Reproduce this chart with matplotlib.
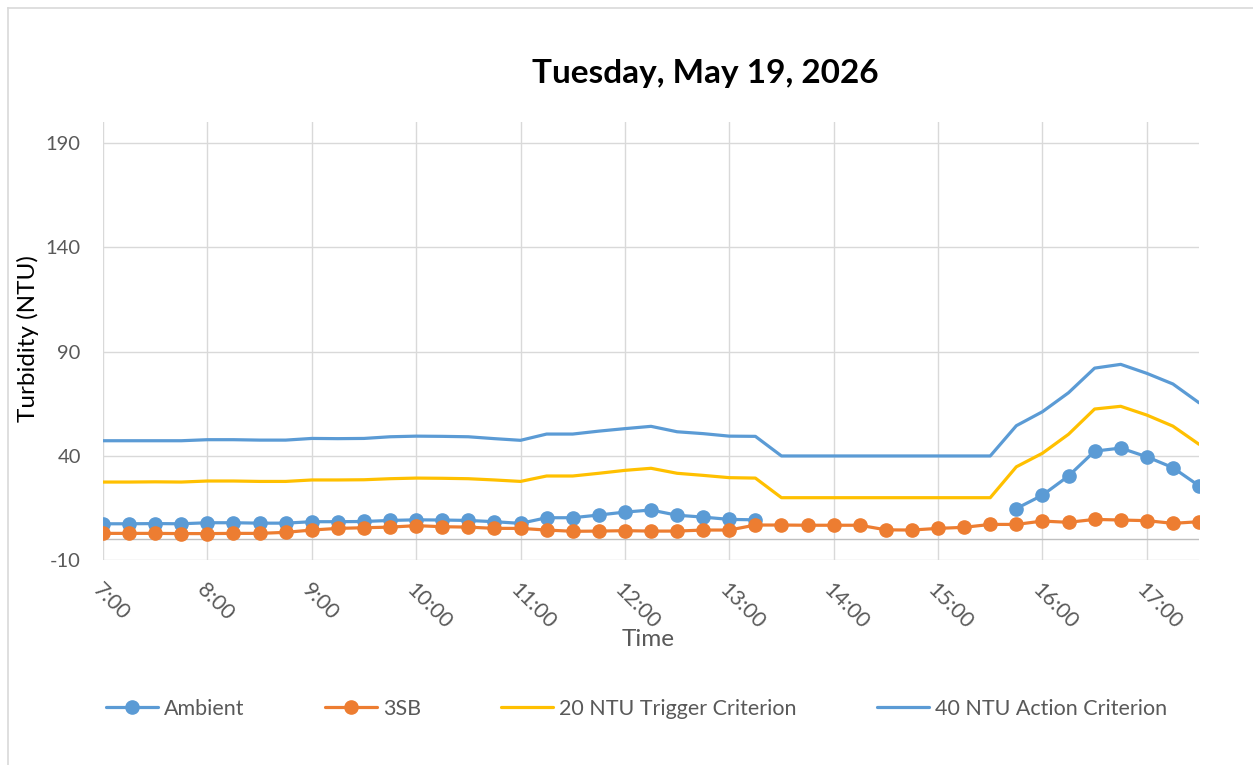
import matplotlib
matplotlib.use("Agg")
import matplotlib.pyplot as plt
import matplotlib.dates as mdates
from matplotlib.lines import Line2D
import numpy as np
import pandas as pd

plt.rcParams["font.family"] = ["Lato", "DejaVu Sans"]
plt.rcParams["axes.unicode_minus"] = False

TITLE = "Tuesday, May 19, 2026"

# 15-minute readings, 07:00 to 17:30
times = pd.date_range("2026-05-19 07:00", "2026-05-19 17:30", freq="15min")

ambient = [
    7.5, 7.5, 7.6, 7.5, 8.0, 8.0, 7.8, 7.8,
    8.5, 8.5, 8.6, 9.1, 9.4, 9.3, 9.1, 8.5,
    7.7, 10.4, 10.4, 11.7, 13.1, 14.1, 11.6, 10.7,
    9.6, 9.4,
    np.nan, np.nan, np.nan, np.nan, np.nan, np.nan, np.nan, np.nan, np.nan,
    14.8, 21.2, 30.4, 42.3, 43.8, 39.6, 34.4, 25.7,
]
sb3 = [
    2.9, 2.9, 2.9, 2.8, 2.8, 2.9, 2.9, 3.4,
    4.5, 5.3, 5.6, 5.9, 6.6, 6.1, 5.9, 5.3,
    5.3, 4.5, 3.9, 4.0, 4.2, 4.0, 4.0, 4.5,
    4.5, 6.9, 6.9, 6.8, 6.8, 6.8, 4.6, 4.5,
    5.3, 5.8, 7.2, 7.2, 8.8, 8.2, 9.6, 9.3,
    9.0, 7.7, 8.5,
]
trigger_20 = [
    27.5, 27.5, 27.6, 27.5, 28.0, 28.0, 27.8, 27.8,
    28.5, 28.5, 28.6, 29.1, 29.4, 29.3, 29.1, 28.5,
    27.8, 30.4, 30.4, 31.7, 33.1, 34.1, 31.7, 30.7,
    29.6, 29.4, 20.0, 20.0, 20.0, 20.0, 20.0, 20.0,
    20.0, 20.0, 20.0, 34.8, 41.3, 50.4, 62.5, 63.8,
    59.6, 54.3, 45.6,
]
action_40 = [
    47.3, 47.3, 47.3, 47.3, 47.8, 47.8, 47.6, 47.6,
    48.4, 48.3, 48.4, 49.2, 49.5, 49.4, 49.2, 48.3,
    47.5, 50.5, 50.5, 51.9, 53.1, 54.2, 51.6, 50.7,
    49.5, 49.4, 40.0, 40.0, 40.0, 40.0, 40.0, 40.0,
    40.0, 40.0, 40.0, 54.5, 61.2, 70.3, 82.1, 83.9,
    79.6, 74.5, 65.5,
]

y_ticks = [-10, 40, 90, 140, 190]

BLUE = "#5B9BD5"
ORANGE = "#ED7D31"
GOLD = "#FFC000"
TEXT = "#595959"
GRID = "#D9D9D9"

W, H = 1253, 765
fig = plt.figure(figsize=(W / 100, H / 100), dpi=100)

# chart-area outline
fig.add_artist(Line2D([7.5 / W, 7.5 / W], [0, 1 - 7.5 / H], color=GRID, lw=1.2))
fig.add_artist(Line2D([7.5 / W, 1], [1 - 7.5 / H, 1 - 7.5 / H], color=GRID, lw=1.2))

ax = fig.add_axes([103 / W, 1 - 560.3 / H, (1199 - 103) / W, (560.3 - 122.1) / H])

line_kw = dict(lw=2.3, solid_joinstyle="round", solid_capstyle="round")
ax.plot(times, ambient, color=BLUE, marker="o", ms=9.5, label="Ambient", zorder=3, **line_kw)
ax.plot(times, sb3, color=ORANGE, marker="o", ms=9.5, label="3SB", zorder=4, **line_kw)
ax.plot(times, trigger_20, color=GOLD, label="20 NTU Trigger Criterion", zorder=5, **line_kw)
ax.plot(times, action_40, color=BLUE, label="40 NTU Action Criterion", zorder=6, **line_kw)

ax.set_xlim(times[0], times[-1])
ax.set_ylim(-10, 200)
ax.set_yticks(y_ticks)
ax.xaxis.set_major_locator(mdates.HourLocator())
ax.xaxis.set_major_formatter(mdates.DateFormatter("%-H:%M"))

for s in ax.spines.values():
    s.set_visible(False)
ax.grid(True, color=GRID, lw=1.0, zorder=0)
ax.set_axisbelow(True)
ax.axhline(0, color="#BFBFBF", lw=1.0, zorder=1)

ax.tick_params(axis="both", length=0, labelcolor=TEXT)
ax.tick_params(axis="y", pad=16, labelsize=14.5)
ax.tick_params(axis="x", pad=14, labelsize=15.5)
for lbl in ax.get_xticklabels():
    lbl.set_rotation(-45)
    lbl.set_ha("left")
    lbl.set_va("top")
    lbl.set_rotation_mode("anchor")

fig.text(28 / W, 1 - 339 / H, "Turbidity (NTU)", rotation=90, ha="center", va="center",
         fontsize=17.5, color="black")
fig.text(648 / W, 1 - 640 / H, "Time", ha="center", va="center", fontsize=17.5, color=TEXT)
fig.text(705 / W, 1 - 73 / H, TITLE, ha="center", va="center", fontsize=24,
         fontweight="bold", color="black")

fig.legend(loc="center left", bbox_to_anchor=(106 / W, 1 - 709 / H), ncol=4,
           frameon=False, fontsize=15.5, labelcolor=TEXT, handlelength=2.4,
           handletextpad=0.28, columnspacing=3.75, borderpad=0, borderaxespad=0,
           numpoints=1)

fig.savefig("out.png", dpi=100)
